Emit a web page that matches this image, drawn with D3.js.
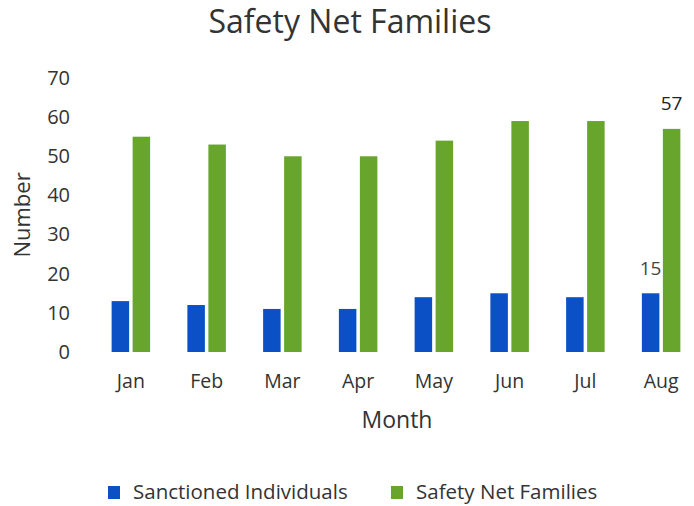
<!DOCTYPE html>
<html>
<head>
  <meta charset="utf-8">
  <script src="https://cdn.jsdelivr.net/npm/d3@7"></script>
  <style>
    body { margin: 0; background: #fff; }
    svg { display: block; font-family: "Open Sans", sans-serif; }
    .tick text { fill: #333; }
  </style>
</head>
<body>
  <svg width="694" height="506"></svg>
  <script>
    // chart data
    var months = ["Jan", "Feb", "Mar", "Apr", "May", "Jun", "Jul", "Aug"];
    var sanctioned = [13, 12, 11, 11, 14, 15, 14, 15];
    var safetyNet = [55, 53, 50, 50, 54, 59, 59, 57];
    var seriesNames = ["Sanctioned Individuals", "Safety Net Families"];
    var yTicks = [0, 10, 20, 30, 40, 50, 60, 70];

    var colours = ["#0b50c4", "#67a52d"];

    var svg = d3.select("svg");

    var x = d3.scaleBand()
      .domain(months)
      .range([93, 699])
      .paddingInner(0)
      .paddingOuter(0);

    var y = d3.scaleLinear()
      .domain([0, 70])
      .range([352, 78]);

    var barW = 17.5, gap = 3.5;

    // y axis (labels only)
    var yAxis = svg.append("g")
      .attr("transform", "translate(72,0)")
      .call(d3.axisLeft(y).tickValues(yTicks).tickSize(0).tickPadding(2));
    yAxis.select(".domain").remove();
    yAxis.selectAll("text").attr("font-size", "20px").attr("font-family", "Open Sans");

    // x axis (labels only)
    var xAxis = svg.append("g")
      .attr("transform", "translate(0,371)")
      .call(d3.axisBottom(x).tickSize(0).tickPadding(3));
    xAxis.select(".domain").remove();
    xAxis.selectAll("text").attr("font-size", "19.5px").attr("font-family", "Open Sans");

    // bars
    var groups = svg.append("g");
    [sanctioned, safetyNet].forEach(function(vals, s) {
      groups.selectAll(".bar" + s)
        .data(vals)
        .enter()
        .append("rect")
        .attr("class", "bar" + s)
        .attr("x", function(d, i) {
          var c = x(months[i]) + x.bandwidth() / 2;
          return s == 0 ? c - gap / 2 - barW : c + gap / 2;
        })
        .attr("y", function(d) { return y(d); })
        .attr("width", barW)
        .attr("height", function(d) { return y(0) - y(d); })
        .attr("fill", colours[s]);
    });

    // data labels on the last month
    var last = months.length - 1;
    var cLast = x(months[last]) + x.bandwidth() / 2;
    svg.append("text")
      .attr("x", cLast - gap / 2 - barW / 2)
      .attr("y", y(sanctioned[last]) - 18)
      .attr("text-anchor", "middle")
      .attr("font-size", "19px")
      .attr("fill", "#444")
      .text(sanctioned[last]);
    svg.append("text")
      .attr("x", cLast + gap / 2 + barW / 2)
      .attr("y", y(safetyNet[last]) - 19)
      .attr("text-anchor", "middle")
      .attr("font-size", "19px")
      .attr("fill", "#222")
      .text(safetyNet[last]);

    // titles
    svg.append("text")
      .attr("x", 350)
      .attr("y", 33)
      .attr("text-anchor", "middle")
      .attr("font-size", "32px")
      .attr("fill", "#333")
      .text("Safety Net Families");

    svg.append("text")
      .attr("transform", "translate(30,215) rotate(-90)")
      .attr("text-anchor", "middle")
      .attr("font-size", "22px")
      .attr("fill", "#333")
      .text("Number");

    svg.append("text")
      .attr("x", 397)
      .attr("y", 428)
      .attr("text-anchor", "middle")
      .attr("font-size", "23px")
      .attr("fill", "#333")
      .text("Month");

    // legend
    var legendX = [108, 391];
    var legend = svg.append("g")
      .selectAll("g")
      .data(seriesNames)
      .enter()
      .append("g")
      .attr("transform", function(d, i) { return "translate(" + legendX[i] + ",486)"; });
    legend.append("rect")
      .attr("width", 12)
      .attr("height", 13)
      .attr("fill", function(d, i) { return colours[i]; });
    legend.append("text")
      .attr("x", 25)
      .attr("y", 13)
      .attr("font-size", "20.5px")
      .attr("fill", "#333")
      .text(function(d) { return d; });
  </script>
</body>
</html>
